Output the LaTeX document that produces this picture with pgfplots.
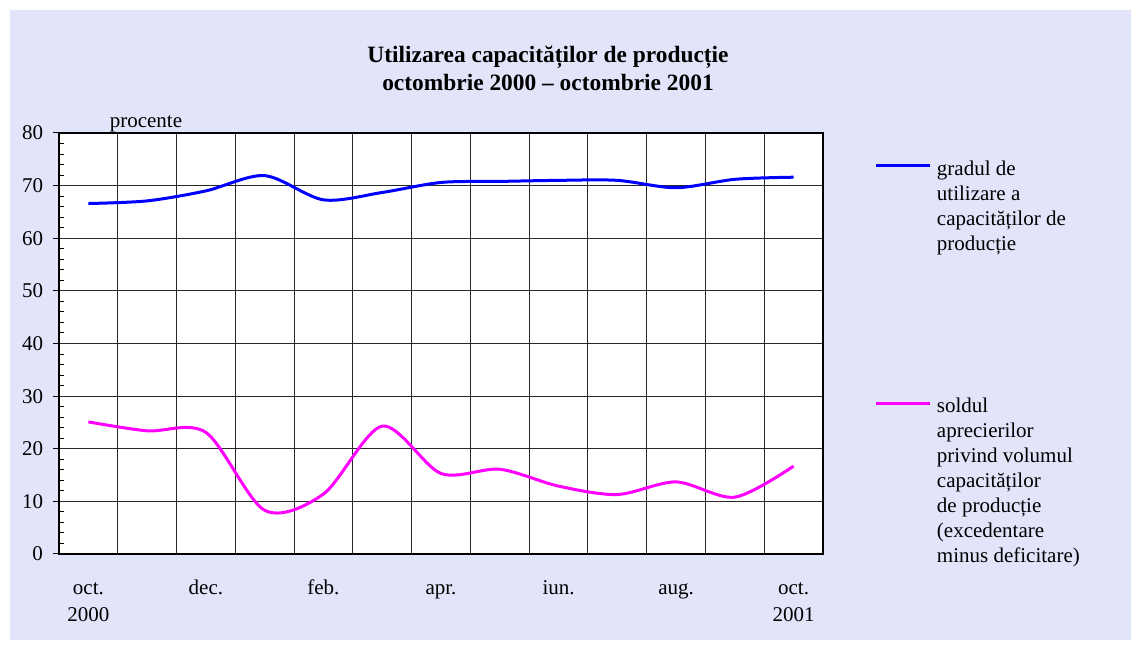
\documentclass[border=0pt]{standalone}
\usepackage{fontspec}
\setmainfont{Liberation Serif}
\usepackage{pgfplots}
\pgfplotsset{compat=1.18}
\definecolor{bgblue}{RGB}{226,228,250}
\definecolor{gridc}{RGB}{40,40,40}
\definecolor{magentaline}{RGB}{255,0,255}
\definecolor{blueline}{RGB}{0,0,255}

\begin{document}
\begin{tikzpicture}
\useasboundingbox (0pt,0pt) rectangle (565.5pt,324pt);
\fill[white] (0pt,0pt) rectangle (565.5pt,324pt);
\fill[bgblue] (5pt,4pt) rectangle (565.5pt,319pt);
\begin{axis}[
  at={(29.5pt,47pt)}, anchor=south west,
  scale only axis, width=382pt, height=210.5pt,
  xmin=0, xmax=13, ymin=0, ymax=80,
  axis background/.style={fill=white},
  axis line style={line width=0.9pt, black},
  xtick={0.5,2.5,4.5,6.5,8.5,10.5,12.5},
  xticklabels={\strut oct.\\2000, \strut dec., \strut feb., \strut apr., \strut iun., \strut aug., \strut oct.\\2001},
  minor xtick={0,1,...,13},
  xmajorgrids=false, xminorgrids=true,
  ymajorgrids=true,
  grid style={line width=0.5pt, gridc},
  minor grid style={line width=0.5pt, gridc},
  major x tick style={draw=none},
  minor x tick style={draw=none},
  ytick={0,10,...,80},
  minor y tick num=4,
  ytick pos=left,
  tick align=inside,
  major tick length=-2.8pt,
  minor tick length=2.5pt,
  major y tick style={line width=0.5pt, black},
  minor y tick style={line width=0.5pt, black},
  /pgf/number format/assume math mode=true,
  yticklabel style={font=\fontsize{10.5}{12.6}\selectfont, anchor=east, inner sep=0pt, xshift=-7.8pt},
  xticklabel style={font=\fontsize{10.5}{13.5}\selectfont, align=center, anchor=north, inner sep=0pt, yshift=-10.8pt},
  legend style={draw=none, fill=none, inner sep=0pt, outer sep=0pt,
    at={(axis description cs:1.068,0.9344)}, anchor=north west,
    row sep=110pt, column sep=2.5pt,
    nodes={inner sep=0pt},
    cells={anchor=base west},
    font=\fontsize{10.5}{12.5}\selectfont},
  legend image code/.code={\draw[#1] (0pt,4.6pt) -- (27pt,4.6pt);},
  clip=false
]
\addplot[blueline, line width=1.5pt, smooth, tension=0.5] coordinates {
  (0.5,66.6) (1.5,67.1) (2.5,69.0) (3.5,71.9) (4.5,67.3) (5.5,68.7) (6.5,70.6)
  (7.5,70.8) (8.5,71.0) (9.5,71.0) (10.5,69.6) (11.5,71.2) (12.5,71.6)};
\addlegendentry{\parbox[t]{90pt}{gradul de\\utilizare a\\capacităților de\\producție}}
\addplot[magentaline, line width=1.5pt, smooth, tension=0.5] coordinates {
  (0.5,25.1) (1.5,23.4) (2.5,23.1) (3.5,8.3) (4.5,11.4) (5.5,24.3) (6.5,15.3)
  (7.5,16.1) (8.5,12.9) (9.5,11.3) (10.5,13.7) (11.5,10.8) (12.5,16.7)};
\addlegendentry{\parbox[t]{90pt}{soldul\\aprecierilor\\privind volumul\\capacităților\\de producție\\(excedentare\\minus deficitare)}}
\end{axis}
\node[align=center, font=\bfseries\fontsize{11.7}{14}\selectfont] at (274pt,290pt)
  {Utilizarea capacităților de producție\\octombrie 2000 – octombrie 2001};
\node[anchor=base, font=\fontsize{10.5}{12.6}\selectfont] at (73pt,260pt) {procente};
\end{tikzpicture}
\end{document}
